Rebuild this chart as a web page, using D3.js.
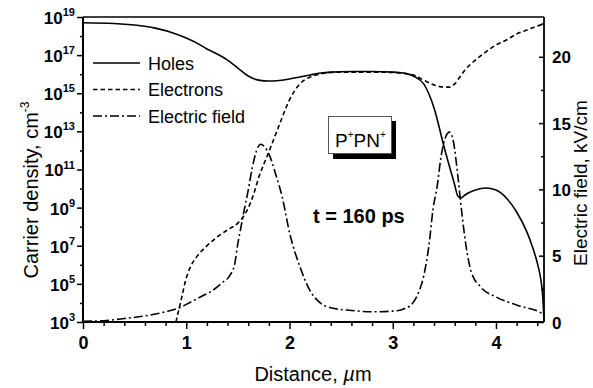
<!DOCTYPE html>
<html>
<head>
<meta charset="utf-8">
<script src="https://cdn.jsdelivr.net/npm/d3@7"></script>
<style>
  html, body { margin: 0; padding: 0; background: #fff; }
  svg { display: block; font-family: "Liberation Sans", Arial, sans-serif; }
</style>
</head>
<body>
<svg id="chart" width="593" height="388"></svg>
<script>
// Hole density profile (cm^-3) vs distance (µm)
const holesX = [0, 0.3, 0.5, 0.7, 0.9, 1.0, 1.1, 1.2, 1.3, 1.4, 1.5, 1.6, 1.7, 1.8, 1.9, 2.0, 2.1, 2.2, 2.3, 2.4, 2.6, 2.8, 3.0, 3.1, 3.2, 3.3, 3.4, 3.5, 3.6, 3.63, 3.66, 3.7, 3.8, 3.9, 4.0, 4.1, 4.2, 4.3, 4.35, 4.4, 4.43, 4.45, 4.46, 4.465];
const holesN = [5e18, 4.6e18, 3.8e18, 2.6e18, 1.3e18, 8e17, 4.4e17, 2.1e17, 1.15e17, 5.5e16, 2.1e16, 8e15, 4.9e15, 4.4e15, 4.7e15, 5.6e15, 7.1e15, 9.1e15, 1.15e16, 1.29e16, 1.38e16, 1.38e16, 1.29e16, 1.15e16, 8e15, 3.1e15, 1.7e14, 1.35e12, 1.55e10, 4.1e9, 3.2e9, 4.6e9, 8.3e9, 1.07e10, 8.3e9, 3.2e9, 5.9e8, 5.2e7, 9.8e6, 1.26e6, 2.3e5, 3.3e4, 4.3e3, 1e3];

// Electron density profile (cm^-3)
const electronsX = [0.9, 0.95, 1.0, 1.05, 1.1, 1.2, 1.3, 1.4, 1.5, 1.55, 1.6, 1.65, 1.7, 1.8, 1.9, 2.0, 2.1, 2.2, 2.3, 2.4, 2.6, 2.8, 3.0, 3.2, 3.3, 3.4, 3.5, 3.55, 3.6, 3.65, 3.7, 3.8, 3.9, 4.0, 4.1, 4.2, 4.3, 4.4, 4.465];
const electronsN = [1e3, 1.4e4, 2e5, 9.8e5, 2.6e6, 9.8e6, 2.9e7, 6.8e7, 1.55e8, 3.2e8, 9.5e8, 4.6e9, 3.5e10, 8.3e11, 2.1e13, 4.5e14, 3.1e15, 7.1e15, 1.02e16, 1.23e16, 1.29e16, 1.29e16, 1.23e16, 9.1e15, 4.9e15, 2.7e15, 2.1e15, 2.1e15, 3.1e15, 7.1e15, 1.66e16, 5.5e16, 1.45e17, 3.4e17, 6.2e17, 1.29e18, 2.1e18, 3.4e18, 4.3e18];

// Electric field profile (kV/cm)
const fieldX = [0, 0.2, 0.4, 0.6, 0.8, 0.95, 1.05, 1.15, 1.25, 1.35, 1.42, 1.47, 1.5, 1.53, 1.56, 1.6, 1.64, 1.68, 1.72, 1.76, 1.8, 1.87, 1.93, 2.0, 2.1, 2.2, 2.3, 2.4, 2.6, 2.8, 3.0, 3.1, 3.17, 3.24, 3.3, 3.35, 3.39, 3.43, 3.47, 3.51, 3.55, 3.59, 3.63, 3.67, 3.71, 3.76, 3.85, 4.0, 4.2, 4.42, 4.46];
const fieldE = [0.05, 0.1, 0.26, 0.46, 0.77, 1.13, 1.53, 1.94, 2.35, 2.97, 3.48, 4.4, 5.93, 7.16, 8.39, 9.92, 11.66, 12.89, 13.4, 13.2, 12.68, 11.05, 9.41, 6.75, 4.19, 2.35, 1.43, 1.07, 0.87, 0.77, 0.82, 0.97, 1.23, 2.05, 3.48, 5.73, 8.49, 10.23, 12.58, 13.91, 14.32, 13.5, 11.05, 8.18, 5.73, 3.79, 2.66, 1.89, 1.28, 0.76, 0.6];

// Axis ticks
const xMajor = [0, 1, 2, 3, 4];
const xMinor = [0.2, 0.4, 0.6, 0.8, 1.2, 1.4, 1.6, 1.8, 2.2, 2.4, 2.6, 2.8, 3.2, 3.4, 3.6, 3.8, 4.2, 4.4];
const densityExpMajor = [3, 5, 7, 9, 11, 13, 15, 17, 19];
const densityExpMinor = [4, 6, 8, 10, 12, 14, 16, 18];
const fieldMajor = [0, 5, 10, 15, 20];
const fieldMinor = [2.5, 7.5, 12.5, 17.5, 22.5];

const legendItems = ["Holes", "Electrons", "Electric field"];

const svg = d3.select("#chart");
const L = 83, T = 17, R = 544, B = 322;

const x = d3.scaleLinear().domain([0, 4.465]).range([L, R]);
const yN = d3.scaleLog().domain([1e3, 1e19]).range([B, T]);
const yE = d3.scaleLinear().domain([0, 23]).range([B, T]);

const dashes = [null, "4.5,3", "9,3,2,3"];

// Bottom axis
const gx = svg.append("g").attr("transform", `translate(0,${B})`);
gx.call(d3.axisBottom(x).tickValues(xMajor).tickSize(7).tickFormat(d3.format("d")));
gx.append("g").call(d3.axisBottom(x).tickValues(xMinor).tickSize(4).tickFormat(""));
gx.selectAll("text").attr("font-size", "18px").attr("font-weight", "bold").attr("fill", "#000").attr("dy", "0.95em");

// Left axis (log)
const gy = svg.append("g").attr("transform", `translate(${L},0)`);
gy.call(d3.axisLeft(yN).tickValues(densityExpMajor.map(e => Math.pow(10, e))).tickSize(6).tickFormat(""));
gy.append("g").call(d3.axisLeft(yN).tickValues(densityExpMinor.map(e => Math.pow(10, e))).tickSize(3).tickFormat(""));
gy.selectAll(".tick").filter(d => densityExpMajor.includes(Math.round(Math.log10(d)))).each(function(d) {
  const t = d3.select(this).append("text")
    .attr("x", -8).attr("dy", "0.38em").attr("text-anchor", "end")
    .attr("fill", "#000").attr("font-size", "17px").attr("font-weight", "bold");
  t.append("tspan").text("10");
  t.append("tspan").attr("dy", "-0.72em").attr("font-size", "11px").text(Math.round(Math.log10(d)));
});

// Right axis (field), ticks inward
const gr = svg.append("g").attr("transform", `translate(${R},0)`);
gr.call(d3.axisLeft(yE).tickValues(fieldMajor).tickSize(5).tickFormat(""));
gr.append("g").call(d3.axisLeft(yE).tickValues(fieldMinor).tickSize(3).tickFormat(""));
gr.selectAll(".tick").filter(d => fieldMajor.includes(d)).append("text")
  .attr("x", 8).attr("dy", "0.36em").attr("text-anchor", "start").attr("fill", "#000")
  .attr("font-size", "17px").attr("font-weight", "bold").text(d => d);

svg.selectAll(".domain").remove();
svg.selectAll(".tick line").attr("stroke", "#000").attr("stroke-width", 1.5);

// Frame
const frame = svg.append("g").attr("fill", "none").attr("stroke", "#000");
frame.append("line").attr("x1", L).attr("x2", R).attr("y1", B).attr("y2", B).attr("stroke-width", 2);
frame.append("line").attr("x1", L).attr("x2", L).attr("y1", T).attr("y2", B).attr("stroke-width", 2);
frame.append("line").attr("x1", R).attr("x2", R).attr("y1", T).attr("y2", B).attr("stroke-width", 1.8);
frame.append("line").attr("x1", L).attr("x2", R).attr("y1", T).attr("y2", T).attr("stroke-width", 1.5);

// Curves
const lineN = d3.line().x(d => x(d[0])).y(d => yN(d[1])).curve(d3.curveMonotoneX);
const lineE = d3.line().x(d => x(d[0])).y(d => yE(d[1])).curve(d3.curveMonotoneX);
const curves = svg.append("g").attr("fill", "none").attr("stroke", "#000").attr("stroke-width", 1.6);
curves.append("path").attr("d", lineN(d3.zip(holesX, holesN)));
curves.append("path").attr("d", lineN(d3.zip(electronsX, electronsN))).attr("stroke-dasharray", dashes[1]);
curves.append("path").attr("d", lineE(d3.zip(fieldX, fieldE))).attr("stroke-dasharray", dashes[2]);

// Legend
const lg = svg.append("g");
legendItems.forEach((name, i) => {
  const yy = 63 + i * 26.5;
  lg.append("line").attr("x1", 93).attr("x2", 140).attr("y1", yy).attr("y2", yy)
    .attr("stroke", "#000").attr("stroke-width", 1.6).attr("stroke-dasharray", dashes[i]);
  lg.append("text").attr("x", 148).attr("y", yy + 6.5).attr("font-size", "18px").attr("fill", "#000").text(name);
});

// Structure label box with shadow
svg.append("rect").attr("x", 333).attr("y", 121).attr("width", 63).attr("height", 38).attr("fill", "#000");
svg.append("rect").attr("x", 328.5).attr("y", 116.5).attr("width", 63).attr("height", 37)
  .attr("fill", "#fff").attr("stroke", "#555").attr("stroke-width", 1);
const pl = svg.append("text").attr("x", 335).attr("y", 147).attr("font-size", "19px").attr("fill", "#000");
pl.append("tspan").text("P");
pl.append("tspan").attr("dy", -9).attr("font-size", "10px").text("+");
pl.append("tspan").attr("dy", 9).text("PN");
pl.append("tspan").attr("dy", -9).attr("font-size", "10px").text("+");

// Time annotation
svg.append("text").attr("x", 313).attr("y", 223).attr("font-size", "20px").attr("font-weight", "bold")
  .attr("fill", "#000").text("t = 160 ps");

// Axis titles
const xt = svg.append("text").attr("x", 313).attr("y", 381).attr("text-anchor", "middle")
  .attr("font-size", "20px").attr("fill", "#000");
xt.append("tspan").text("Distance, ");
xt.append("tspan").attr("font-style", "italic").text("µ");
xt.append("tspan").text("m");

const yt = svg.append("text").attr("transform", "translate(38,190) rotate(-90)").attr("text-anchor", "middle")
  .attr("font-size", "20px").attr("fill", "#000");
yt.append("tspan").text("Carrier density, cm");
yt.append("tspan").attr("dy", -9).attr("font-size", "12px").text("-3");

svg.append("text").attr("transform", "translate(587,183) rotate(-90)").attr("text-anchor", "middle")
  .attr("font-size", "19px").attr("fill", "#000").text("Electric field, kV/cm");
</script>
</body>
</html>
